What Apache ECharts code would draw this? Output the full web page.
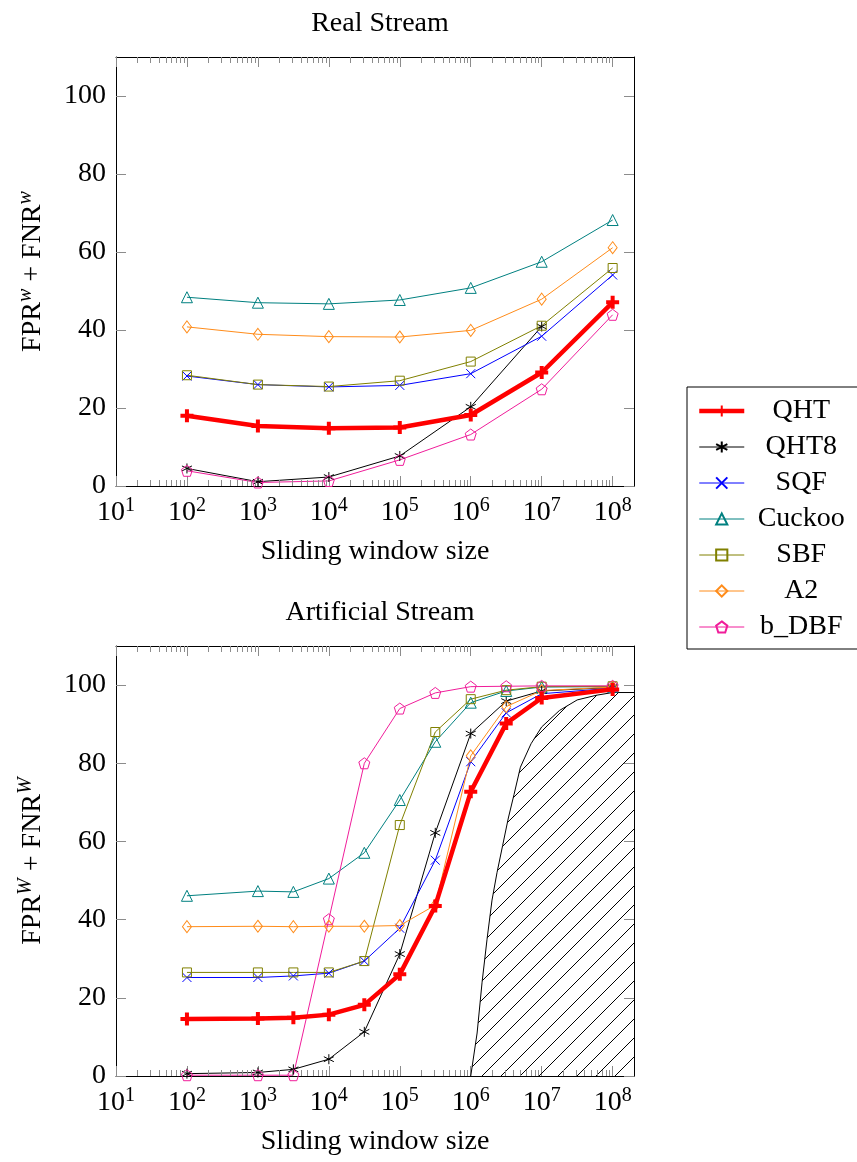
<!DOCTYPE html>
<html>
<head>
<meta charset="UTF-8">
<title>FPR + FNR vs sliding window size</title>
<script src="https://cdn.jsdelivr.net/npm/echarts@6/dist/echarts.min.js"></script>
<style>
    html, body { margin: 0; padding: 0; background: #fff; }
    #main { width: 857px; height: 1162px; }
</style>
</head>
<body>
<div id="main"></div>
<script>
// window sizes
var xReal = [1e2, 1e3, 1e4, 1e5, 1e6, 1e7, 1e8];
var xArt = [1e2, 1e3, 3162, 1e4, 31623, 1e5, 316228, 1e6, 3162278, 1e7, 1e8];

var names = ['QHT', 'QHT8', 'SQF', 'Cuckoo', 'SBF', 'A2', 'b_DBF'];

// tick positions
var xTicks = [1e1, 1e2, 1e3, 1e4, 1e5, 1e6, 1e7, 1e8];
var yTicks = [0, 20, 40, 60, 80, 100];

// Real Stream (FPR^w + FNR^w, %)
var qhtReal    = [18.0, 15.4, 14.8, 15.0, 18.2, 29.1, 47.1];
var qht8Real   = [4.5, 1.1, 2.3, 7.7, 20.3, 40.9];
var sqfReal    = [28.2, 26.0, 25.4, 25.8, 28.8, 38.4, 54.1];
var cuckooReal = [48.4, 47.0, 46.7, 47.7, 50.8, 57.5, 68.2];
var sbfReal    = [28.4, 26.0, 25.5, 27.0, 31.9, 41.1, 55.9];
var a2Real     = [40.8, 38.9, 38.3, 38.2, 39.9, 47.9, 61.1];
var bdbfReal   = [3.9, 0.9, 1.3, 6.7, 13.2, 24.8, 43.9];

// Artificial Stream (FPR^W + FNR^W, %)
var qhtArt    = [14.6, 14.7, 14.9, 15.7, 18.2, 26.0, 43.5, 72.7, 90.2, 96.7, 98.9];
var qht8Art   = [0.6, 0.9, 1.7, 4.3, 11.3, 31.2, 62.2, 87.6, 95.9, 98.5, 99.4];
var sqfArt    = [25.2, 25.2, 25.6, 26.3, 29.4, 37.8, 55.2, 80.4, 92.9, 97.8, 99.2];
var cuckooArt = [46.1, 47.3, 47.1, 50.5, 57.1, 70.6, 85.5, 95.5, 98.5, 99.5, 99.6];
var sbfArt    = [26.5, 26.5, 26.5, 26.5, 29.4, 64.2, 88.0, 96.4, 98.7, 99.6, 99.7];
var a2Art     = [38.2, 38.3, 38.2, 38.3, 38.3, 38.5, 43.7, 81.9, 94.5, 98.6, 99.5];
var bdbfArt   = [0.2, 0.2, 0.2, 40.1, 80.0, 94.0, 98.0, 99.6, 99.7, 99.8, 99.8];

// hatched region (artificial stream)
var hatchX = [1e6, 1.23e6, 1.445e6, 1.698e6, 1.995e6, 2.344e6, 2.818e6, 3.388e6, 4.074e6,
              5.012e6, 7.079e6, 1e7, 1.778e7, 3.162e7, 5.888e7, 1e8, 2e8];
var hatchY = [0, 11, 24, 35, 45, 52, 59, 66, 72, 79, 85, 89.3, 93.5, 96.2, 97.4, 98.1, 98.1];

var FONT = 'Liberation Serif';
var TICK = '#8c8c8c';

var styles = {
    'QHT':    { color: '#ff0000', width: 4.5, symbol: 'path://M5,0L5,10M0,5L10,5', size: 13, bw: 4 },
    'QHT8':   { color: '#000000', width: 1, symbol: 'path://M5,0L5,10M0.67,2.5L9.33,7.5M0.67,7.5L9.33,2.5', size: 10, bw: 1 },
    'SQF':    { color: '#0000ff', width: 1, symbol: 'path://M0,0L10,10M0,10L10,0', size: 9, bw: 1 },
    'Cuckoo': { color: '#008080', width: 1, symbol: 'triangle', size: 11, bw: 1 },
    'SBF':    { color: '#808000', width: 1, symbol: 'rect', size: 9, bw: 1 },
    'A2':     { color: '#ff8c1a', width: 1, symbol: 'diamond', size: [9, 12], bw: 1 },
    'b_DBF':  { color: '#f01d9a', width: 1, symbol: 'path://M5,0L9.76,3.45L7.94,9.05L2.06,9.05L0.24,3.45Z', size: 11, bw: 1 }
};

var realData = [qhtReal, qht8Real, sqfReal, cuckooReal, sbfReal, a2Real, bdbfReal];
var artData = [qhtArt, qht8Art, sqfArt, cuckooArt, sbfArt, a2Art, bdbfArt];

function pairs(xs, ys) {
    return ys.map(function (y, i) { return [xs[i], y]; });
}

function makeSeries(name, xs, ys, axis) {
    var s = styles[name];
    return {
        name: name,
        type: 'line',
        xAxisIndex: axis,
        yAxisIndex: axis,
        data: pairs(xs, ys),
        symbol: s.symbol,
        symbolSize: s.size,
        showAllSymbol: true,
        lineStyle: { color: s.color, width: s.width },
        itemStyle: { color: 'transparent', borderColor: s.color, borderWidth: s.bw },
        emphasis: { disabled: true },
        z: name === 'QHT' ? 4 : 3,
        animation: false
    };
}

// hatch pattern (north east lines)
var HS = 19;
var hatch = document.createElement('canvas');
hatch.width = HS; hatch.height = HS;
var hg = hatch.getContext('2d');
hg.strokeStyle = '#000';
hg.lineWidth = 1;
hg.beginPath();
hg.moveTo(0, HS); hg.lineTo(HS, 0);
hg.moveTo(-HS / 2, HS / 2); hg.lineTo(HS / 2, -HS / 2);
hg.moveTo(HS / 2, HS * 1.5); hg.lineTo(HS * 1.5, HS / 2);
hg.stroke();

var supRich = {
    b: { fontFamily: FONT, fontSize: 28, color: '#000', lineHeight: 34 },
    s: { fontFamily: FONT, fontSize: 20, color: '#000', lineHeight: 20, verticalAlign: 'top' },
    i: { fontFamily: FONT, fontSize: 20, fontStyle: 'italic', color: '#000', lineHeight: 20, verticalAlign: 'top' }
};

function xAxes(grid) {
    var common = {
        gridIndex: grid,
        type: 'log',
        logBase: 10,
        min: 10,
        max: 2e8,
        splitLine: { show: false },
        axisLine: { show: true, onZero: false, lineStyle: { color: '#000', width: 1 } },
        axisTick: { show: true, inside: true, length: 10, customValues: xTicks, lineStyle: { color: TICK } }
    };
    var bottom = Object.assign({}, common, {
        position: 'bottom',
        name: 'Sliding window size',
        nameLocation: 'middle',
        nameGap: 52,
        nameTextStyle: { fontFamily: FONT, fontSize: 28, color: '#000' },
        axisLabel: {
            margin: 10,
            customValues: xTicks,
            formatter: function (v) {
                return '{b|10}{s|' + Math.round(Math.log10(v)) + '}';
            },
            rich: supRich
        }
    });
    var top = Object.assign({}, common, { position: 'top', axisLabel: { show: false } });
    return [bottom, top];
}

function yAxes(grid, sup) {
    var common = {
        gridIndex: grid,
        type: 'value',
        min: 0,
        max: 110,
        interval: 20,
        splitLine: { show: false },
        axisLine: { show: true, onZero: false, lineStyle: { color: '#000', width: 1 } },
        axisTick: { show: true, inside: true, length: 10, customValues: yTicks, lineStyle: { color: TICK } }
    };
    var left = Object.assign({}, common, {
        position: 'left',
        name: '{b|FPR}{i|' + sup + '}{b| + FNR}{i|' + sup + '}',
        nameLocation: 'middle',
        nameGap: 66,
        nameTextStyle: { rich: supRich },
        axisLabel: {
            margin: 10,
            customValues: yTicks,
            fontFamily: FONT,
            fontSize: 28,
            color: '#000'
        }
    });
    var right = Object.assign({}, common, { position: 'right', axisLabel: { show: false } });
    return [left, right];
}

var series = [];
names.forEach(function (n, i) { series.push(makeSeries(n, xReal, realData[i], 0)); });
names.forEach(function (n, i) { series.push(makeSeries(n, xArt, artData[i], 2)); });
series.push({
    name: 'hatch',
    type: 'line',
    xAxisIndex: 2,
    yAxisIndex: 2,
    data: pairs(hatchX, hatchY),
    symbol: 'none',
    lineStyle: { color: '#000', width: 1 },
    areaStyle: { color: { image: hatch, repeat: 'repeat' }, opacity: 1 },
    silent: true,
    z: 1,
    animation: false
});

var legendData = names.map(function (n) {
    var s = styles[n];
    return { name: n, lineStyle: { width: s.width, color: s.color } };
});

var chart = echarts.init(document.getElementById('main'), null, { renderer: 'canvas' });

var option = {
    backgroundColor: '#fff',
    animation: false,
    title: [
        { text: 'Real Stream', left: 375, textAlign: 'center', top: 5,
          textStyle: { fontFamily: FONT, fontSize: 28, fontWeight: 'normal', color: '#000' } },
        { text: 'Artificial Stream', left: 375, textAlign: 'center', top: 594,
          textStyle: { fontFamily: FONT, fontSize: 28, fontWeight: 'normal', color: '#000' } }
    ],
    legend: {
        data: legendData,
        orient: 'vertical',
        left: 687,
        top: 387,
        itemWidth: 45,
        itemHeight: 14,
        itemGap: 8,
        padding: [10, 20, 8, 10],
        borderColor: '#000',
        borderWidth: 1,
        selectedMode: false,
        formatter: function (n) { return '{c|' + n + '}'; },
        textStyle: {
            fontFamily: FONT, fontSize: 28, color: '#000',
            rich: { c: { fontFamily: FONT, fontSize: 28, color: '#000', width: 104, align: 'center', lineHeight: 22 } }
        }
    },
    grid: [
        { left: 116, top: 57, width: 518, height: 429 },
        { left: 116, top: 646, width: 518, height: 430 }
    ],
    xAxis: xAxes(0).concat(xAxes(1)),
    yAxis: yAxes(0, 'w').concat(yAxes(1, 'W')),
    series: series
};

chart.setOption(option);

// log minor ticks on bottom and top edges of both plots
var minor = [];
[[0, 0], [2, 2]].forEach(function (ax) {
    var yb = chart.convertToPixel({ yAxisIndex: ax[1] }, 0);
    var yt = chart.convertToPixel({ yAxisIndex: ax[1] }, 110);
    for (var k = 1; k <= 8; k++) {
        for (var m = 2; m <= 9; m++) {
            var v = m * Math.pow(10, k);
            if (v >= 2e8) continue;
            var px = Math.round(chart.convertToPixel({ xAxisIndex: ax[0] }, v)) + 0.5;
            minor.push({ type: 'line', silent: true, z: 10,
                shape: { x1: px, y1: yb, x2: px, y2: yb - 6 },
                style: { stroke: TICK, lineWidth: 1 } });
            minor.push({ type: 'line', silent: true, z: 10,
                shape: { x1: px, y1: yt, x2: px, y2: yt + 6 },
                style: { stroke: TICK, lineWidth: 1 } });
        }
    }
});
chart.setOption({ graphic: minor });
</script>
</body>
</html>
